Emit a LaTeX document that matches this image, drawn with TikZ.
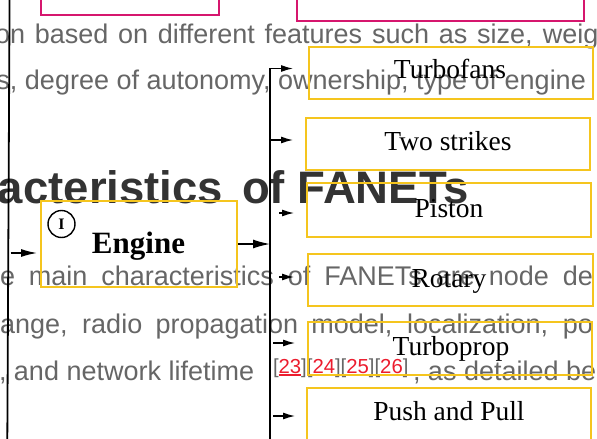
\documentclass[tikz,border=0pt]{standalone}
\usepackage{fontspec}
\setmainfont{Liberation Serif}
\setsansfont{Liberation Sans}
\usetikzlibrary{arrows.meta}
\definecolor{bodygray}{RGB}{102,102,102}
\definecolor{titlegray}{RGB}{51,51,51}
\definecolor{refred}{RGB}{236,28,46}
\definecolor{boxyellow}{RGB}{245,197,30}
\definecolor{boxmag}{RGB}{214,22,110}
\newcommand\ulref[1]{\setbox0\hbox{#1}\rlap{\rule[-2.6pt]{\wd0}{1.8pt}}\box0}
\tikzset{
  bodytxt/.style={font=\sffamily\fontsize{27}{32}\selectfont, text=bodygray, inner sep=0pt, outer sep=0pt, anchor=base west},
  titletxt/.style={font=\sffamily\bfseries\fontsize{45.5}{50}\selectfont, text=titlegray, inner sep=0pt, outer sep=0pt, anchor=base west},
  reftxt/.style={font=\sffamily\fontsize{20.3}{24}\selectfont, text=bodygray, inner sep=0pt, outer sep=0pt, anchor=base west},
  ybox/.style={draw=boxyellow, line width=2pt, inner sep=0pt},
  mbox/.style={draw=boxmag, line width=2pt, inner sep=0pt},
  lbl/.style={font=\fontsize{27.5}{32}\selectfont, inner sep=0pt, anchor=base},
  vline/.style={line width=1.8pt, black},
  arr/.style={line width=1.3pt, -{Latex[length=12pt,width=7pt]}},
  bigarr/.style={line width=1.4pt, -{Latex[length=17pt,width=9pt]}},
}
\begin{document}
\begin{tikzpicture}[x=1pt,y=-1pt]
\useasboundingbox (0,0) rectangle (597,439);
\fill[white] (0,0) rectangle (597,439);
\clip (0,0) rectangle (597,439);
% page text behind the diagram
\node[bodytxt] (t1) at (-5,43) {\makebox[603.5pt][s]{on based on different features such as size, weig}};
\node[bodytxt] (t2) at (-3.5,89) {s, degree of autonomy, ownership, type of engine};
\node[titletxt] (t3) at (-2,203) {acteristics\hspace{19pt}of FANETs};
\node[bodytxt] (t4) at (0,285) {\makebox[593pt][s]{e main characteristics of FANETs are node de}};
\node[bodytxt] (t5) at (0,333) {\makebox[593pt][s]{ange, radio propagation model, localization, po}};
\node[bodytxt] (t6) at (-1,380) {, and network lifetime};
\node[reftxt] (t7) at (273,373) {[\textcolor{refred}{\ulref{23}}][\textcolor{refred}{\ulref{24}}][\textcolor{refred}{\ulref{25}}][\textcolor{refred}{\ulref{26}}]};
\node[bodytxt] (t8) at (413,380) {, as detailed be};
% diagram
\node[mbox, minimum width=178pt, minimum height=60pt] (m1) at (130,-15) {};
\node[mbox, minimum width=287pt, minimum height=60pt] (m2) at (440.5,-9) {};
\node[ybox, minimum width=196pt, minimum height=86pt] (e) at (139,244) {};
\node[font=\bfseries\fontsize{31}{34}\selectfont, inner sep=0pt, anchor=base] (elbl) at (138.5,253) {Engine};
\node[draw, circle, line width=1.4pt, minimum size=27pt, inner sep=0pt, font=\bfseries\fontsize{16}{17}\selectfont] (num) at (61.5,224) {I};
\node[ybox, minimum width=284pt, minimum height=52pt] (b1) at (451,73) {};
\node[ybox, minimum width=284pt, minimum height=52pt] (b2) at (448,144) {};
\node[ybox, minimum width=284pt, minimum height=54pt] (b3) at (449,210) {};
\node[ybox, minimum width=285pt, minimum height=52pt] (b4) at (450.5,280) {};
\node[ybox, minimum width=284pt, minimum height=53pt] (b5) at (450,348.5) {};
\node[ybox, minimum width=284pt, minimum height=53pt] (b6) at (449,414.5) {};
\node[lbl] (l1) at (450,78) {Turbofans};
\node[lbl] (l2) at (448,150) {Two strikes};
\node[lbl] (l3) at (449,217) {Piston};
\node[lbl] (l4) at (449,287) {Rotary};
\node[lbl] (l5) at (451,355) {Turboprop};
\node[lbl] (l6) at (449,420) {Push and Pull};
% trunk lines
\coordinate (L1) at (9.6,-3);
\coordinate (L2) at (7.3,442);
\draw[vline] (L1) -- (L2);
\coordinate (R1) at (270,68.5);
\coordinate (R2) at (270,442);
\draw[vline, line cap=rect] (R2) -- (R1);
% arrows
\coordinate (la) at (10.5,253);
\draw[line width=1.4pt, -{Latex[length=16pt,width=8pt]}, shorten >=3pt] (la) -- (la -| e.west);
\draw[bigarr] (e.east) -- (e.east -| R1);
\draw[arr, shorten >=15pt] (R1) -- (R1 -| b1.west);
\coordinate (s2) at (270,140);
\draw[arr, shorten >=12pt] (s2) -- (s2 -| b2.west);
\coordinate (s3) at (279,213);
\draw[arr, shorten >=12pt] (s3) -- (s3 -| b3.west);
\coordinate (s4) at (279,277);
\draw[arr, shorten >=13pt] (s4) -- (s4 -| b4.west);
\coordinate (s5) at (273,343);
\draw[arr, shorten >=12pt] (s5) -- (s5 -| b5.west);
\coordinate (s6) at (273,416);
\draw[arr, shorten >=11pt] (s6) -- (s6 -| b6.west);
\end{tikzpicture}
\end{document}
